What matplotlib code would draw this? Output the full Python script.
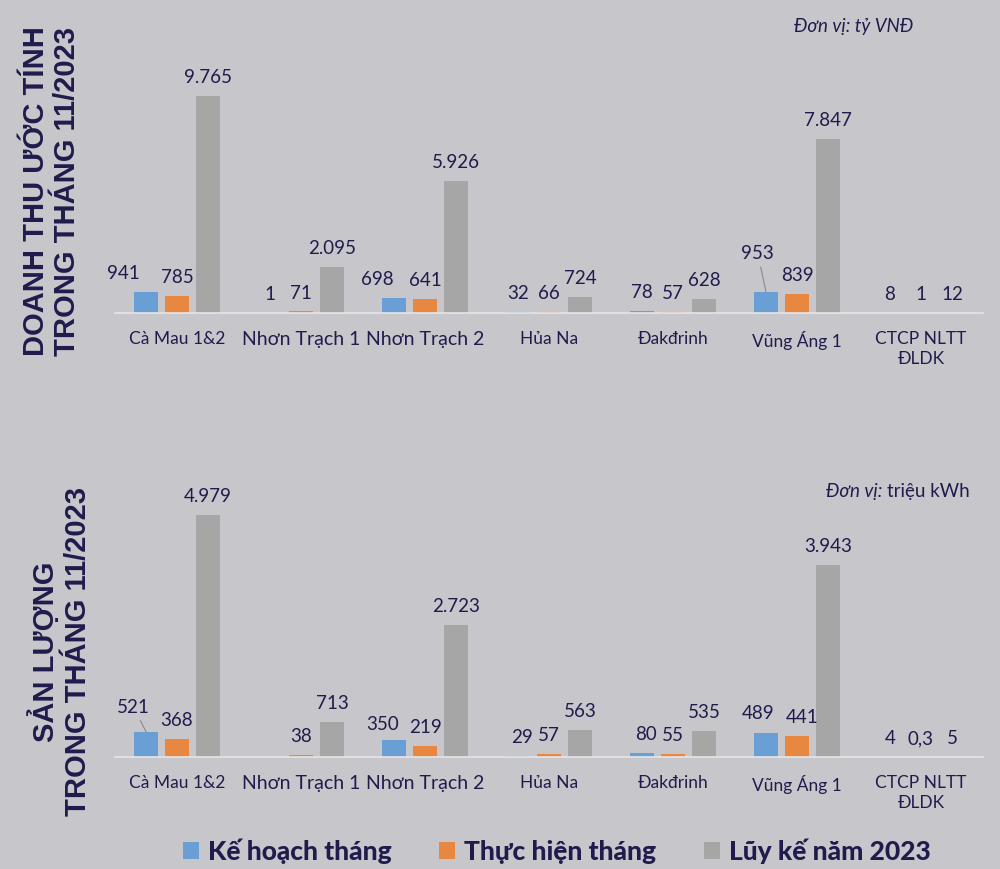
import matplotlib
matplotlib.use("Agg")
import matplotlib.pyplot as plt
import numpy as np
from matplotlib.patches import Patch

# ---------------- data ----------------
categories = ["Cà Mau 1&2", "Nhơn Trạch 1", "Nhơn Trạch 2", "Hủa Na",
              "Đakđrinh", "Vũng Áng 1", "CTCP NLTT\nĐLDK"]
series_names = ["Kế hoạch tháng", "Thực hiện tháng", "Lũy kế năm 2023"]

rev_plan = [941, 1, 698, 32, 78, 953, 8]
rev_actual = [785, 71, 641, 66, 57, 839, 1]
rev_cum = [9765, 2095, 5926, 724, 628, 7847, 12]
rev_plan_lbl = ["941", "1", "698", "32", "78", "953", "8"]
rev_actual_lbl = ["785", "71", "641", "66", "57", "839", "1"]
rev_cum_lbl = ["9.765", "2.095", "5.926", "724", "628", "7.847", "12"]

out_plan = [521, 0, 350, 29, 80, 489, 4]
out_actual = [368, 38, 219, 57, 55, 441, 0.3]
out_cum = [4979, 713, 2723, 563, 535, 3943, 5]
out_plan_lbl = ["521", "", "350", "29", "80", "489", "4"]
out_actual_lbl = ["368", "38", "219", "57", "55", "441", "0,3"]
out_cum_lbl = ["4.979", "713", "2.723", "563", "535", "3.943", "5"]

top_title = "DOANH THU ƯỚC TÍNH\nTRONG THÁNG 11/2023"
bot_title = "SẢN LƯỢNG\nTRONG THÁNG 11/2023"

# ---------------- style ----------------
BG = "#c7c6ca"
NAVY = "#1f1c4d"
COLORS = ["#6a9fd6", "#e8873f", "#a6a6a6"]
LABEL_FONT = ["Lato", "DejaVu Sans"]
TITLE_FONT = ["Liberation Sans", "DejaVu Sans"]

fig = plt.figure(figsize=(10, 8.7), dpi=100, facecolor=BG)

def draw_panel(rect, ymax, vals, lbls, special):
    ax = fig.add_axes(rect, facecolor=BG)
    x = np.arange(len(categories))
    offs = [-0.25, 0.0, 0.25]
    for s in range(3):
        ax.bar(x + offs[s], vals[s], width=0.2, color=COLORS[s], zorder=2)
        for i in range(len(categories)):
            txt = lbls[s][i]
            if not txt:
                continue
            dx, dy, lead = special.get((s, i), (0, 0, False))
            kw = {}
            if lead:
                kw["arrowprops"] = dict(arrowstyle="-", color="#8a8a8a", lw=0.8,
                                        shrinkA=2, shrinkB=0)
            ax.annotate(txt, xy=(x[i] + offs[s], vals[s][i]),
                        xytext=(dx, 14 + dy), textcoords="offset points",
                        ha="center", va="center", fontsize=13.5, color=NAVY,
                        family=LABEL_FONT, **kw)
    ax.set_xlim(-0.5, len(categories) - 0.5)
    ax.set_ylim(0, ymax)
    for sp in ["top", "right", "left"]:
        ax.spines[sp].set_visible(False)
    ax.spines["bottom"].set_color("#e6e6e8")
    ax.spines["bottom"].set_linewidth(1.2)
    ax.set_yticks([])
    ax.set_xticks(x)
    ax.set_xticklabels(categories, color=NAVY, family=LABEL_FONT, fontsize=12.5,
                       linespacing=1.35)
    for t in ax.get_xticklabels():
        if "Nhơn" in t.get_text():
            t.set_fontsize(14)
    ax.tick_params(axis="x", length=0, pad=12)
    return ax

ax1 = draw_panel([0.115, 0.639, 0.868, 0.292], 11430,
                 [rev_plan, rev_actual, rev_cum],
                 [rev_plan_lbl, rev_actual_lbl, rev_cum_lbl],
                 {(0, 0): (-16, 0, False), (0, 2): (-12, 0, False),
                  (0, 5): (-6, 14, True)})
ax2 = draw_panel([0.115, 0.1287, 0.868, 0.3195], 5720,
                 [out_plan, out_actual, out_cum],
                 [out_plan_lbl, out_actual_lbl, out_cum_lbl],
                 {(0, 0): (-9, 4, True), (0, 2): (-8, -2, False),
                  (0, 5): (-6, 1, False), (1, 5): (4, 0, False),
                  (0, 4): (3, 0, False), (0, 3): (3, 0, False)})

# side titles
fig.text(0.0515, 0.780, top_title, rotation=90, ha="center", va="center",
         multialignment="center", fontsize=21, fontweight="bold", color=NAVY,
         family=TITLE_FONT, linespacing=1.15)
fig.text(0.060, 0.251, bot_title, rotation=90, ha="center", va="center",
         multialignment="center", fontsize=21, fontweight="bold", color=NAVY,
         family=TITLE_FONT, linespacing=1.15)

# unit notes
fig.text(0.913, 0.969, "Đơn vị: tỷ VNĐ", ha="right", va="center", fontsize=13.5,
         style="italic", color=NAVY, family=LABEL_FONT)
t_reg = fig.text(0.970, 0.4345, "triệu kWh", ha="right", va="center",
                 fontsize=13.5, color=NAVY, family=LABEL_FONT)
ax2.annotate("Đơn vị: ", xy=(0, 0.5), xycoords=t_reg, ha="right", va="center",
             fontsize=13.5, style="italic", color=NAVY, family=LABEL_FONT,
             annotation_clip=False)

# legend
handles = [Patch(facecolor=c, edgecolor="none") for c in COLORS]
fig.legend(handles, series_names, loc="center", bbox_to_anchor=(0.557, 0.021),
           ncol=3, frameon=False, handlelength=0.6, handleheight=0.6,
           handletextpad=0.35, columnspacing=1.8,
           prop=dict(family=LABEL_FONT, weight="black", size=19),
           labelcolor=NAVY)

fig.savefig("out.png", dpi=100, facecolor=BG)
